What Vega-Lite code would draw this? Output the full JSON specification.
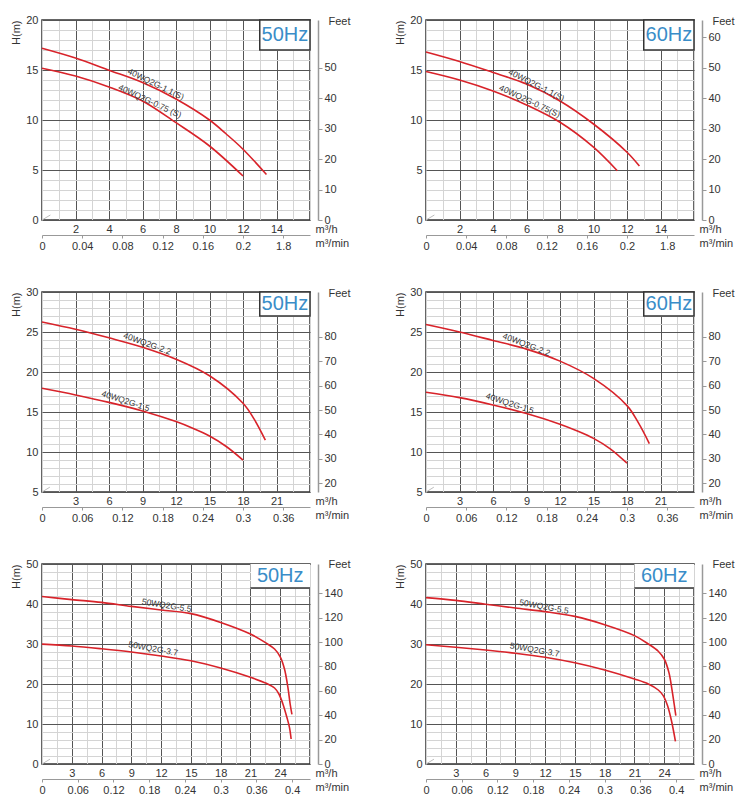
{
"$schema": "https://vega.github.io/schema/vega-lite/v6.json",
"background": "white",
"padding": {"left": 9, "top": 13, "right": 0, "bottom": 0},
"config": {
 "view": {"stroke": "#333", "strokeWidth": 1.5},
 "font": "Liberation Sans",
 "line": {"interpolate": "catmull-rom"},
 "axis": {"labelFont": "Liberation Sans", "labelFontSize": 11, "labelColor": "#333", "titleFont": "Liberation Sans", "titleFontSize": 11, "titleFontWeight": "normal", "titleColor": "#333", "labelOverlap": false, "labelFlush": false, "gridWidth": 1}
},
"datasets": {
 "curves": [
  {"p":1,"m":"40WQ2G-1.1(S)","Q":0,"H":17.18},{"p":1,"m":"40WQ2G-1.1(S)","Q":2,"H":16.2},{"p":1,"m":"40WQ2G-1.1(S)","Q":4,"H":14.98},{"p":1,"m":"40WQ2G-1.1(S)","Q":6,"H":13.75},{"p":1,"m":"40WQ2G-1.1(S)","Q":8,"H":12.1},{"p":1,"m":"40WQ2G-1.1(S)","Q":10,"H":10.0},{"p":1,"m":"40WQ2G-1.1(S)","Q":11,"H":8.6},{"p":1,"m":"40WQ2G-1.1(S)","Q":12,"H":7.08},{"p":1,"m":"40WQ2G-1.1(S)","Q":13.4,"H":4.55},
  {"p":1,"m":"40WQ2G-0.75 (S)","Q":0,"H":15.18},{"p":1,"m":"40WQ2G-0.75 (S)","Q":2,"H":14.4},{"p":1,"m":"40WQ2G-0.75 (S)","Q":4,"H":13.3},{"p":1,"m":"40WQ2G-0.75 (S)","Q":6,"H":11.9},{"p":1,"m":"40WQ2G-0.75 (S)","Q":8,"H":9.73},{"p":1,"m":"40WQ2G-0.75 (S)","Q":10,"H":7.4},{"p":1,"m":"40WQ2G-0.75 (S)","Q":12,"H":4.4},
  {"p":2,"m":"40WQ2G-1.1(S)","Q":0,"H":16.8},{"p":2,"m":"40WQ2G-1.1(S)","Q":2,"H":15.85},{"p":2,"m":"40WQ2G-1.1(S)","Q":4,"H":14.75},{"p":2,"m":"40WQ2G-1.1(S)","Q":6,"H":13.6},{"p":2,"m":"40WQ2G-1.1(S)","Q":8,"H":11.9},{"p":2,"m":"40WQ2G-1.1(S)","Q":10,"H":9.6},{"p":2,"m":"40WQ2G-1.1(S)","Q":12,"H":6.78},{"p":2,"m":"40WQ2G-1.1(S)","Q":12.74,"H":5.4},
  {"p":2,"m":"40WQ2G-0.75(S)","Q":0,"H":14.85},{"p":2,"m":"40WQ2G-0.75(S)","Q":2,"H":14.0},{"p":2,"m":"40WQ2G-0.75(S)","Q":4,"H":12.9},{"p":2,"m":"40WQ2G-0.75(S)","Q":6,"H":11.5},{"p":2,"m":"40WQ2G-0.75(S)","Q":8,"H":9.77},{"p":2,"m":"40WQ2G-0.75(S)","Q":10,"H":7.28},{"p":2,"m":"40WQ2G-0.75(S)","Q":11.42,"H":4.92},
  {"p":3,"m":"40WQ2G-2.2","Q":0,"H":26.26},{"p":3,"m":"40WQ2G-2.2","Q":3,"H":25.35},{"p":3,"m":"40WQ2G-2.2","Q":6,"H":24.27},{"p":3,"m":"40WQ2G-2.2","Q":9,"H":23.1},{"p":3,"m":"40WQ2G-2.2","Q":12,"H":21.6},{"p":3,"m":"40WQ2G-2.2","Q":15,"H":19.53},{"p":3,"m":"40WQ2G-2.2","Q":18,"H":16.09},{"p":3,"m":"40WQ2G-2.2","Q":19,"H":14.1},{"p":3,"m":"40WQ2G-2.2","Q":20,"H":11.48},
  {"p":3,"m":"40WQ2G-1.5","Q":0,"H":17.96},{"p":3,"m":"40WQ2G-1.5","Q":3,"H":17.13},{"p":3,"m":"40WQ2G-1.5","Q":6,"H":16.2},{"p":3,"m":"40WQ2G-1.5","Q":9,"H":15.13},{"p":3,"m":"40WQ2G-1.5","Q":12,"H":13.8},{"p":3,"m":"40WQ2G-1.5","Q":13.5,"H":12.97},{"p":3,"m":"40WQ2G-1.5","Q":15,"H":12.0},{"p":3,"m":"40WQ2G-1.5","Q":16.5,"H":10.69},{"p":3,"m":"40WQ2G-1.5","Q":18,"H":8.99},
  {"p":4,"m":"40WQ2G-2.2","Q":0,"H":25.93},{"p":4,"m":"40WQ2G-2.2","Q":3,"H":25.0},{"p":4,"m":"40WQ2G-2.2","Q":6,"H":23.94},{"p":4,"m":"40WQ2G-2.2","Q":9,"H":22.86},{"p":4,"m":"40WQ2G-2.2","Q":12,"H":21.36},{"p":4,"m":"40WQ2G-2.2","Q":15,"H":19.2},{"p":4,"m":"40WQ2G-2.2","Q":18,"H":15.8},{"p":4,"m":"40WQ2G-2.2","Q":19,"H":13.7},{"p":4,"m":"40WQ2G-2.2","Q":20,"H":11.06},
  {"p":4,"m":"40WQ2G-1.5","Q":0,"H":17.46},{"p":4,"m":"40WQ2G-1.5","Q":3,"H":16.8},{"p":4,"m":"40WQ2G-1.5","Q":6,"H":15.88},{"p":4,"m":"40WQ2G-1.5","Q":9,"H":14.8},{"p":4,"m":"40WQ2G-1.5","Q":12,"H":13.47},{"p":4,"m":"40WQ2G-1.5","Q":13.5,"H":12.65},{"p":4,"m":"40WQ2G-1.5","Q":15,"H":11.7},{"p":4,"m":"40WQ2G-1.5","Q":16.5,"H":10.4},{"p":4,"m":"40WQ2G-1.5","Q":18,"H":8.6},
  {"p":5,"m":"50WQ2G-5.5","Q":0,"H":41.86},{"p":5,"m":"50WQ2G-5.5","Q":3,"H":41.1},{"p":5,"m":"50WQ2G-5.5","Q":6,"H":40.4},{"p":5,"m":"50WQ2G-5.5","Q":9,"H":39.4},{"p":5,"m":"50WQ2G-5.5","Q":12,"H":38.5},{"p":5,"m":"50WQ2G-5.5","Q":15,"H":37.6},{"p":5,"m":"50WQ2G-5.5","Q":18,"H":35.4},{"p":5,"m":"50WQ2G-5.5","Q":21,"H":32.5},{"p":5,"m":"50WQ2G-5.5","Q":22.6,"H":30.2},{"p":5,"m":"50WQ2G-5.5","Q":23.43,"H":28.75},{"p":5,"m":"50WQ2G-5.5","Q":24,"H":26.8},{"p":5,"m":"50WQ2G-5.5","Q":24.43,"H":23.75},{"p":5,"m":"50WQ2G-5.5","Q":24.77,"H":19.2},{"p":5,"m":"50WQ2G-5.5","Q":25,"H":15.0},{"p":5,"m":"50WQ2G-5.5","Q":25.18,"H":12.4},
  {"p":5,"m":"50WQ2G-3.7","Q":0,"H":29.98},{"p":5,"m":"50WQ2G-3.7","Q":3,"H":29.5},{"p":5,"m":"50WQ2G-3.7","Q":6,"H":28.8},{"p":5,"m":"50WQ2G-3.7","Q":9,"H":28.0},{"p":5,"m":"50WQ2G-3.7","Q":12,"H":27.0},{"p":5,"m":"50WQ2G-3.7","Q":15,"H":25.8},{"p":5,"m":"50WQ2G-3.7","Q":18,"H":24.0},{"p":5,"m":"50WQ2G-3.7","Q":21,"H":21.67},{"p":5,"m":"50WQ2G-3.7","Q":22.6,"H":20.17},{"p":5,"m":"50WQ2G-3.7","Q":23.43,"H":19.0},{"p":5,"m":"50WQ2G-3.7","Q":23.87,"H":17.5},{"p":5,"m":"50WQ2G-3.7","Q":24.27,"H":15.0},{"p":5,"m":"50WQ2G-3.7","Q":24.67,"H":11.67},{"p":5,"m":"50WQ2G-3.7","Q":24.93,"H":9.17},{"p":5,"m":"50WQ2G-3.7","Q":25.1,"H":6.25},
  {"p":6,"m":"50WQ2G-5.5","Q":0,"H":41.6},{"p":6,"m":"50WQ2G-5.5","Q":3,"H":40.9},{"p":6,"m":"50WQ2G-5.5","Q":6,"H":39.95},{"p":6,"m":"50WQ2G-5.5","Q":9,"H":39.0},{"p":6,"m":"50WQ2G-5.5","Q":12,"H":38.1},{"p":6,"m":"50WQ2G-5.5","Q":15,"H":36.9},{"p":6,"m":"50WQ2G-5.5","Q":18,"H":34.83},{"p":6,"m":"50WQ2G-5.5","Q":21,"H":32.1},{"p":6,"m":"50WQ2G-5.5","Q":22.4,"H":30.0},{"p":6,"m":"50WQ2G-5.5","Q":23.4,"H":28.2},{"p":6,"m":"50WQ2G-5.5","Q":24,"H":26.25},{"p":6,"m":"50WQ2G-5.5","Q":24.47,"H":22.9},{"p":6,"m":"50WQ2G-5.5","Q":24.8,"H":18.3},{"p":6,"m":"50WQ2G-5.5","Q":25,"H":15.0},{"p":6,"m":"50WQ2G-5.5","Q":25.17,"H":12.1},
  {"p":6,"m":"50WQ2G-3.7","Q":0,"H":29.8},{"p":6,"m":"50WQ2G-3.7","Q":3,"H":29.2},{"p":6,"m":"50WQ2G-3.7","Q":6,"H":28.5},{"p":6,"m":"50WQ2G-3.7","Q":9,"H":27.7},{"p":6,"m":"50WQ2G-3.7","Q":12,"H":26.7},{"p":6,"m":"50WQ2G-3.7","Q":15,"H":25.3},{"p":6,"m":"50WQ2G-3.7","Q":18,"H":23.5},{"p":6,"m":"50WQ2G-3.7","Q":21,"H":21.25},{"p":6,"m":"50WQ2G-3.7","Q":22.4,"H":20.0},{"p":6,"m":"50WQ2G-3.7","Q":23.4,"H":18.5},{"p":6,"m":"50WQ2G-3.7","Q":23.9,"H":17.1},{"p":6,"m":"50WQ2G-3.7","Q":24.33,"H":14.6},{"p":6,"m":"50WQ2G-3.7","Q":24.73,"H":10.8},{"p":6,"m":"50WQ2G-3.7","Q":25.13,"H":5.67}
 ],
 "labels": [
  {"p":1,"n":1,"m":"40WQ2G-1.1(S)","Q":6.8,"H":13.6},{"p":1,"n":2,"m":"40WQ2G-0.75 (S)","Q":6.45,"H":11.9},
  {"p":2,"n":1,"m":"40WQ2G-1.1(S)","Q":6.6,"H":13.5},{"p":2,"n":2,"m":"40WQ2G-0.75(S)","Q":6.2,"H":11.9},
  {"p":3,"n":1,"m":"40WQ2G-2.2","Q":9.43,"H":23.57},{"p":3,"n":2,"m":"40WQ2G-1.5","Q":7.49,"H":16.4},
  {"p":4,"n":1,"m":"40WQ2G-2.2","Q":9.0,"H":23.45},{"p":4,"n":2,"m":"40WQ2G-1.5","Q":7.52,"H":16.1},
  {"p":5,"n":1,"m":"50WQ2G-5.5","Q":12.56,"H":39.7},{"p":5,"n":2,"m":"50WQ2G-3.7","Q":11.2,"H":28.9},
  {"p":6,"n":1,"m":"50WQ2G-5.5","Q":11.9,"H":39.4},{"p":6,"n":2,"m":"50WQ2G-3.7","Q":10.95,"H":28.6}
 ]
},
"columns": 2,
"spacing": {"row": 72, "column": 116},
"bounds": "flush",
"concat": [
 {
  "width": 268, "height": 200,
  "resolve": {"scale": {"x": "independent", "y": "independent"}},
  "layer": [
   {"resolve": {"axis": {"x": "independent", "y": "independent"}},
    "layer": [
    {"data": {"values": [{}]}, "mark": {"type": "rule", "color": "#bdbdbd", "strokeWidth": 1},
     "encoding": {
      "x": {"datum": 0, "type": "quantitative", "scale": {"domain": [0, 16], "nice": false},
       "axis": {"orient": "bottom", "values": [0,1,2,3,4,5,6,7,8,9,10,11,12,13,14,15,16], "grid": true, "gridColor": "#d4d4d4", "labels": false, "ticks": false, "domain": false, "title": null}},
      "y": {"datum": 0, "type": "quantitative", "scale": {"domain": [0, 20], "nice": false},
       "axis": {"orient": "left", "values": [0,1,2,3,4,5,6,7,8,9,10,11,12,13,14,15,16,17,18,19,20], "grid": true, "gridColor": "#d4d4d4", "labels": false, "ticks": false, "domain": false, "title": null}},
      "x2": {"datum": 0.5}, "y2": {"datum": 0.5}}},
    {"data": {"values": [{}]}, "mark": {"type": "rect", "fill": "white", "stroke": "#333", "strokeWidth": 1.5},
     "encoding": {"x": {"datum": 13, "type": "quantitative", "axis": null}, "x2": {"datum": 16}, "y": {"datum": 17, "type": "quantitative", "axis": null}, "y2": {"datum": 20}}},
    {"data": {"name": "curves"}, "transform": [{"filter": "datum.p == 1"}],
     "mark": {"type": "line", "color": "#d8232a", "strokeWidth": 1.6},
     "encoding": {
      "x": {"field": "Q", "type": "quantitative", "scale": {"domain": [0, 16], "nice": false},
       "axis": {"orient": "bottom", "values": [2,4,6,8,10,12,14], "grid": true, "gridColor": "#555", "ticks": false, "domain": false, "labelPadding": 3, "labelOverlap": false, "title": "m³/h", "titleX": 273, "titleY": 9, "titleAlign": "left", "titleBaseline": "middle"}},
      "y": {"field": "H", "type": "quantitative", "scale": {"domain": [0, 20], "nice": false},
       "axis": {"orient": "left", "values": [0,5,10,15,20], "grid": true, "gridColor": "#555", "ticks": false, "domain": false, "labelPadding": 4, "labelOverlap": false, "title": "H(m)", "titleX": -26, "titleY": 0, "titleAngle": 270, "titleAlign": "right", "titleBaseline": "middle"}},
      "detail": {"field": "m", "type": "nominal"}}},
    {"data": {"name": "labels"}, "transform": [{"filter": "datum.p == 1 && datum.n == 1"}],
     "mark": {"type": "text", "angle": 26, "fontSize": 8.5, "color": "#333"},
     "encoding": {"x": {"field": "Q", "type": "quantitative", "axis": null}, "y": {"field": "H", "type": "quantitative", "axis": null}, "text": {"field": "m"}}},
    {"data": {"name": "labels"}, "transform": [{"filter": "datum.p == 1 && datum.n == 2"}],
     "mark": {"type": "text", "angle": 25, "fontSize": 8.5, "color": "#333"},
     "encoding": {"x": {"field": "Q", "type": "quantitative", "axis": null}, "y": {"field": "H", "type": "quantitative", "axis": null}, "text": {"field": "m"}}},
    {"data": {"values": [{}]}, "mark": {"type": "text", "text": "50Hz", "fontSize": 20, "color": "#3a8dc8"},
     "encoding": {"x": {"datum": 14.5, "type": "quantitative", "axis": null}, "y": {"datum": 18.5, "type": "quantitative", "axis": null}}}
   ]},
   {"data": {"values": [{}]}, "mark": {"type": "point", "opacity": 0},
    "encoding": {"y": {"datum": 0, "type": "quantitative", "scale": {"domain": [0, 65.617], "nice": false},
     "axis": {"orient": "right", "offset": 8, "values": [0,10,20,30,40,50], "grid": false, "domain": true, "domainColor": "#999", "domainWidth": 1.5, "ticks": true, "tickColor": "#999", "tickSize": 4, "labelPadding": 2, "labelOverlap": false, "title": "Feet", "titleAngle": 0, "titleX": 10, "titleY": 1, "titleAlign": "left", "titleBaseline": "middle"}}}},
   {"data": {"values": [{}]}, "mark": {"type": "point", "opacity": 0},
    "encoding": {"x": {"datum": 0, "type": "quantitative", "scale": {"domain": [0, 0.266667], "nice": false},
     "axis": {"orient": "bottom", "offset": 15, "values": [0,0.04,0.08,0.12,0.16,0.2,0.24], "format": "~g", "labelExpr": "datum.value > 0.23 ? '1.8' : datum.label", "grid": false, "domain": true, "domainColor": "#999", "ticks": true, "tickColor": "#999", "tickSize": 3, "labelPadding": 2, "labelOverlap": false, "title": "m³/min", "titleX": 273, "titleY": 8, "titleAlign": "left", "titleBaseline": "middle"}}}}
  ]
 },
 {
  "width": 268, "height": 200,
  "resolve": {"scale": {"x": "independent", "y": "independent"}},
  "layer": [
   {"resolve": {"axis": {"x": "independent", "y": "independent"}},
    "layer": [
    {"data": {"values": [{}]}, "mark": {"type": "rule", "color": "#bdbdbd", "strokeWidth": 1},
     "encoding": {
      "x": {"datum": 0, "type": "quantitative", "scale": {"domain": [0, 16], "nice": false},
       "axis": {"orient": "bottom", "values": [0,1,2,3,4,5,6,7,8,9,10,11,12,13,14,15,16], "grid": true, "gridColor": "#d4d4d4", "labels": false, "ticks": false, "domain": false, "title": null}},
      "y": {"datum": 0, "type": "quantitative", "scale": {"domain": [0, 20], "nice": false},
       "axis": {"orient": "left", "values": [0,1,2,3,4,5,6,7,8,9,10,11,12,13,14,15,16,17,18,19,20], "grid": true, "gridColor": "#d4d4d4", "labels": false, "ticks": false, "domain": false, "title": null}},
      "x2": {"datum": 0.5}, "y2": {"datum": 0.5}}},
    {"data": {"values": [{}]}, "mark": {"type": "rect", "fill": "white", "stroke": "#333", "strokeWidth": 1.5},
     "encoding": {"x": {"datum": 13, "type": "quantitative", "axis": null}, "x2": {"datum": 16}, "y": {"datum": 17, "type": "quantitative", "axis": null}, "y2": {"datum": 20}}},
    {"data": {"name": "curves"}, "transform": [{"filter": "datum.p == 2"}],
     "mark": {"type": "line", "color": "#d8232a", "strokeWidth": 1.6},
     "encoding": {
      "x": {"field": "Q", "type": "quantitative", "scale": {"domain": [0, 16], "nice": false},
       "axis": {"orient": "bottom", "values": [2,4,6,8,10,12,14], "grid": true, "gridColor": "#555", "ticks": false, "domain": false, "labelPadding": 3, "labelOverlap": false, "title": "m³/h", "titleX": 273, "titleY": 9, "titleAlign": "left", "titleBaseline": "middle"}},
      "y": {"field": "H", "type": "quantitative", "scale": {"domain": [0, 20], "nice": false},
       "axis": {"orient": "left", "values": [0,5,10,15,20], "grid": true, "gridColor": "#555", "ticks": false, "domain": false, "labelPadding": 4, "labelOverlap": false, "title": "H(m)", "titleX": -26, "titleY": 0, "titleAngle": 270, "titleAlign": "right", "titleBaseline": "middle"}},
      "detail": {"field": "m", "type": "nominal"}}},
    {"data": {"name": "labels"}, "transform": [{"filter": "datum.p == 2 && datum.n == 1"}],
     "mark": {"type": "text", "angle": 27, "fontSize": 8.5, "color": "#333"},
     "encoding": {"x": {"field": "Q", "type": "quantitative", "axis": null}, "y": {"field": "H", "type": "quantitative", "axis": null}, "text": {"field": "m"}}},
    {"data": {"name": "labels"}, "transform": [{"filter": "datum.p == 2 && datum.n == 2"}],
     "mark": {"type": "text", "angle": 25, "fontSize": 8.5, "color": "#333"},
     "encoding": {"x": {"field": "Q", "type": "quantitative", "axis": null}, "y": {"field": "H", "type": "quantitative", "axis": null}, "text": {"field": "m"}}},
    {"data": {"values": [{}]}, "mark": {"type": "text", "text": "60Hz", "fontSize": 20, "color": "#3a8dc8"},
     "encoding": {"x": {"datum": 14.5, "type": "quantitative", "axis": null}, "y": {"datum": 18.5, "type": "quantitative", "axis": null}}}
   ]},
   {"data": {"values": [{}]}, "mark": {"type": "point", "opacity": 0},
    "encoding": {"y": {"datum": 0, "type": "quantitative", "scale": {"domain": [0, 65.617], "nice": false},
     "axis": {"orient": "right", "offset": 8, "values": [0,10,20,30,40,50,60], "grid": false, "domain": true, "domainColor": "#999", "domainWidth": 1.5, "ticks": true, "tickColor": "#999", "tickSize": 4, "labelPadding": 2, "labelOverlap": false, "title": "Feet", "titleAngle": 0, "titleX": 10, "titleY": 1, "titleAlign": "left", "titleBaseline": "middle"}}}},
   {"data": {"values": [{}]}, "mark": {"type": "point", "opacity": 0},
    "encoding": {"x": {"datum": 0, "type": "quantitative", "scale": {"domain": [0, 0.266667], "nice": false},
     "axis": {"orient": "bottom", "offset": 15, "values": [0,0.04,0.08,0.12,0.16,0.2,0.24], "format": "~g", "labelExpr": "datum.value > 0.23 ? '1.8' : datum.label", "grid": false, "domain": true, "domainColor": "#999", "ticks": true, "tickColor": "#999", "tickSize": 3, "labelPadding": 2, "labelOverlap": false, "title": "m³/min", "titleX": 273, "titleY": 8, "titleAlign": "left", "titleBaseline": "middle"}}}}
  ]
 },
 {
  "width": 268, "height": 200,
  "resolve": {"scale": {"x": "independent", "y": "independent"}},
  "layer": [
   {"resolve": {"axis": {"x": "independent", "y": "independent"}},
    "layer": [
    {"data": {"values": [{}]}, "mark": {"type": "rule", "color": "#bdbdbd", "strokeWidth": 1},
     "encoding": {
      "x": {"datum": 0, "type": "quantitative", "scale": {"domain": [0, 24], "nice": false},
       "axis": {"orient": "bottom", "values": [0,1.5,3,4.5,6,7.5,9,10.5,12,13.5,15,16.5,18,19.5,21,22.5,24], "grid": true, "gridColor": "#d4d4d4", "labels": false, "ticks": false, "domain": false, "title": null}},
      "y": {"datum": 5, "type": "quantitative", "scale": {"domain": [5, 30], "nice": false, "zero": false},
       "axis": {"orient": "left", "values": [5,6,7,8,9,10,11,12,13,14,15,16,17,18,19,20,21,22,23,24,25,26,27,28,29,30], "grid": true, "gridColor": "#d4d4d4", "labels": false, "ticks": false, "domain": false, "title": null}},
      "x2": {"datum": 0.7}, "y2": {"datum": 5.6}}},
    {"data": {"values": [{}]}, "mark": {"type": "rect", "fill": "white", "stroke": "#333", "strokeWidth": 1.5},
     "encoding": {"x": {"datum": 19.5, "type": "quantitative", "axis": null}, "x2": {"datum": 24}, "y": {"datum": 27, "type": "quantitative", "axis": null}, "y2": {"datum": 30}}},
    {"data": {"name": "curves"}, "transform": [{"filter": "datum.p == 3"}],
     "mark": {"type": "line", "color": "#d8232a", "strokeWidth": 1.6},
     "encoding": {
      "x": {"field": "Q", "type": "quantitative", "scale": {"domain": [0, 24], "nice": false},
       "axis": {"orient": "bottom", "values": [3,6,9,12,15,18,21], "grid": true, "gridColor": "#555", "ticks": false, "domain": false, "labelPadding": 3, "labelOverlap": false, "title": "m³/h", "titleX": 273, "titleY": 9, "titleAlign": "left", "titleBaseline": "middle"}},
      "y": {"field": "H", "type": "quantitative", "scale": {"domain": [5, 30], "nice": false, "zero": false},
       "axis": {"orient": "left", "values": [5,10,15,20,25,30], "grid": true, "gridColor": "#555", "ticks": false, "domain": false, "labelPadding": 4, "labelOverlap": false, "title": "H(m)", "titleX": -26, "titleY": 0, "titleAngle": 270, "titleAlign": "right", "titleBaseline": "middle"}},
      "detail": {"field": "m", "type": "nominal"}}},
    {"data": {"name": "labels"}, "transform": [{"filter": "datum.p == 3 && datum.n == 1"}],
     "mark": {"type": "text", "angle": 20, "fontSize": 8.5, "color": "#333"},
     "encoding": {"x": {"field": "Q", "type": "quantitative", "axis": null}, "y": {"field": "H", "type": "quantitative", "axis": null}, "text": {"field": "m"}}},
    {"data": {"name": "labels"}, "transform": [{"filter": "datum.p == 3 && datum.n == 2"}],
     "mark": {"type": "text", "angle": 18, "fontSize": 8.5, "color": "#333"},
     "encoding": {"x": {"field": "Q", "type": "quantitative", "axis": null}, "y": {"field": "H", "type": "quantitative", "axis": null}, "text": {"field": "m"}}},
    {"data": {"values": [{}]}, "mark": {"type": "text", "text": "50Hz", "fontSize": 20, "color": "#3a8dc8"},
     "encoding": {"x": {"datum": 21.75, "type": "quantitative", "axis": null}, "y": {"datum": 28.5, "type": "quantitative", "axis": null}}}
   ]},
   {"data": {"values": [{}]}, "mark": {"type": "point", "opacity": 0},
    "encoding": {"y": {"datum": 20, "type": "quantitative", "scale": {"domain": [16.404, 98.425], "nice": false, "zero": false},
     "axis": {"orient": "right", "offset": 8, "values": [20,30,40,50,60,70,80], "grid": false, "domain": true, "domainColor": "#999", "domainWidth": 1.5, "ticks": true, "tickColor": "#999", "tickSize": 4, "labelPadding": 2, "labelOverlap": false, "title": "Feet", "titleAngle": 0, "titleX": 10, "titleY": 1, "titleAlign": "left", "titleBaseline": "middle"}}}},
   {"data": {"values": [{}]}, "mark": {"type": "point", "opacity": 0},
    "encoding": {"x": {"datum": 0, "type": "quantitative", "scale": {"domain": [0, 0.4], "nice": false},
     "axis": {"orient": "bottom", "offset": 15, "values": [0,0.06,0.12,0.18,0.24,0.3,0.36], "format": "~g", "grid": false, "domain": true, "domainColor": "#999", "ticks": true, "tickColor": "#999", "tickSize": 3, "labelPadding": 2, "labelOverlap": false, "title": "m³/min", "titleX": 273, "titleY": 8, "titleAlign": "left", "titleBaseline": "middle"}}}}
  ]
 },
 {
  "width": 268, "height": 200,
  "resolve": {"scale": {"x": "independent", "y": "independent"}},
  "layer": [
   {"resolve": {"axis": {"x": "independent", "y": "independent"}},
    "layer": [
    {"data": {"values": [{}]}, "mark": {"type": "rule", "color": "#bdbdbd", "strokeWidth": 1},
     "encoding": {
      "x": {"datum": 0, "type": "quantitative", "scale": {"domain": [0, 24], "nice": false},
       "axis": {"orient": "bottom", "values": [0,1.5,3,4.5,6,7.5,9,10.5,12,13.5,15,16.5,18,19.5,21,22.5,24], "grid": true, "gridColor": "#d4d4d4", "labels": false, "ticks": false, "domain": false, "title": null}},
      "y": {"datum": 5, "type": "quantitative", "scale": {"domain": [5, 30], "nice": false, "zero": false},
       "axis": {"orient": "left", "values": [5,6,7,8,9,10,11,12,13,14,15,16,17,18,19,20,21,22,23,24,25,26,27,28,29,30], "grid": true, "gridColor": "#d4d4d4", "labels": false, "ticks": false, "domain": false, "title": null}},
      "x2": {"datum": 0.7}, "y2": {"datum": 5.6}}},
    {"data": {"values": [{}]}, "mark": {"type": "rect", "fill": "white", "stroke": "#333", "strokeWidth": 1.5},
     "encoding": {"x": {"datum": 19.5, "type": "quantitative", "axis": null}, "x2": {"datum": 24}, "y": {"datum": 27, "type": "quantitative", "axis": null}, "y2": {"datum": 30}}},
    {"data": {"name": "curves"}, "transform": [{"filter": "datum.p == 4"}],
     "mark": {"type": "line", "color": "#d8232a", "strokeWidth": 1.6},
     "encoding": {
      "x": {"field": "Q", "type": "quantitative", "scale": {"domain": [0, 24], "nice": false},
       "axis": {"orient": "bottom", "values": [3,6,9,12,15,18,21], "grid": true, "gridColor": "#555", "ticks": false, "domain": false, "labelPadding": 3, "labelOverlap": false, "title": "m³/h", "titleX": 273, "titleY": 9, "titleAlign": "left", "titleBaseline": "middle"}},
      "y": {"field": "H", "type": "quantitative", "scale": {"domain": [5, 30], "nice": false, "zero": false},
       "axis": {"orient": "left", "values": [5,10,15,20,25,30], "grid": true, "gridColor": "#555", "ticks": false, "domain": false, "labelPadding": 4, "labelOverlap": false, "title": "H(m)", "titleX": -26, "titleY": 0, "titleAngle": 270, "titleAlign": "right", "titleBaseline": "middle"}},
      "detail": {"field": "m", "type": "nominal"}}},
    {"data": {"name": "labels"}, "transform": [{"filter": "datum.p == 4 && datum.n == 1"}],
     "mark": {"type": "text", "angle": 21, "fontSize": 8.5, "color": "#333"},
     "encoding": {"x": {"field": "Q", "type": "quantitative", "axis": null}, "y": {"field": "H", "type": "quantitative", "axis": null}, "text": {"field": "m"}}},
    {"data": {"name": "labels"}, "transform": [{"filter": "datum.p == 4 && datum.n == 2"}],
     "mark": {"type": "text", "angle": 18, "fontSize": 8.5, "color": "#333"},
     "encoding": {"x": {"field": "Q", "type": "quantitative", "axis": null}, "y": {"field": "H", "type": "quantitative", "axis": null}, "text": {"field": "m"}}},
    {"data": {"values": [{}]}, "mark": {"type": "text", "text": "60Hz", "fontSize": 20, "color": "#3a8dc8"},
     "encoding": {"x": {"datum": 21.75, "type": "quantitative", "axis": null}, "y": {"datum": 28.5, "type": "quantitative", "axis": null}}}
   ]},
   {"data": {"values": [{}]}, "mark": {"type": "point", "opacity": 0},
    "encoding": {"y": {"datum": 20, "type": "quantitative", "scale": {"domain": [16.404, 98.425], "nice": false, "zero": false},
     "axis": {"orient": "right", "offset": 8, "values": [20,30,40,50,60,70,80], "grid": false, "domain": true, "domainColor": "#999", "domainWidth": 1.5, "ticks": true, "tickColor": "#999", "tickSize": 4, "labelPadding": 2, "labelOverlap": false, "title": "Feet", "titleAngle": 0, "titleX": 10, "titleY": 1, "titleAlign": "left", "titleBaseline": "middle"}}}},
   {"data": {"values": [{}]}, "mark": {"type": "point", "opacity": 0},
    "encoding": {"x": {"datum": 0, "type": "quantitative", "scale": {"domain": [0, 0.4], "nice": false},
     "axis": {"orient": "bottom", "offset": 15, "values": [0,0.06,0.12,0.18,0.24,0.3,0.36], "format": "~g", "grid": false, "domain": true, "domainColor": "#999", "ticks": true, "tickColor": "#999", "tickSize": 3, "labelPadding": 2, "labelOverlap": false, "title": "m³/min", "titleX": 273, "titleY": 8, "titleAlign": "left", "titleBaseline": "middle"}}}}
  ]
 },
 {
  "width": 268, "height": 200,
  "resolve": {"scale": {"x": "independent", "y": "independent"}},
  "layer": [
   {"resolve": {"axis": {"x": "independent", "y": "independent"}},
    "layer": [
    {"data": {"values": [{}]}, "mark": {"type": "rule", "color": "#bdbdbd", "strokeWidth": 1},
     "encoding": {
      "x": {"datum": 0, "type": "quantitative", "scale": {"domain": [0, 27], "nice": false},
       "axis": {"orient": "bottom", "values": [0,1.5,3,4.5,6,7.5,9,10.5,12,13.5,15,16.5,18,19.5,21,22.5,24,25.5,27], "grid": true, "gridColor": "#d4d4d4", "labels": false, "ticks": false, "domain": false, "title": null}},
      "y": {"datum": 0, "type": "quantitative", "scale": {"domain": [0, 50], "nice": false},
       "axis": {"orient": "left", "values": [0,2,4,6,8,10,12,14,16,18,20,22,24,26,28,30,32,34,36,38,40,42,44,46,48,50], "grid": true, "gridColor": "#d4d4d4", "labels": false, "ticks": false, "domain": false, "title": null}},
      "x2": {"datum": 0.8}, "y2": {"datum": 1.2}}},
    {"data": {"values": [{}]}, "mark": {"type": "rect", "fill": "white"},
     "encoding": {"x": {"datum": 21, "type": "quantitative", "axis": null}, "x2": {"datum": 27}, "y": {"datum": 44, "type": "quantitative", "axis": null}, "y2": {"datum": 50}}},
    {"data": {"values": [{}]}, "mark": {"type": "rule", "color": "#333", "strokeWidth": 1.5},
     "encoding": {"x": {"datum": 21, "type": "quantitative", "axis": null}, "x2": {"datum": 27}, "y": {"datum": 44, "type": "quantitative", "axis": null}}},
    {"data": {"name": "curves"}, "transform": [{"filter": "datum.p == 5"}],
     "mark": {"type": "line", "color": "#d8232a", "strokeWidth": 1.6},
     "encoding": {
      "x": {"field": "Q", "type": "quantitative", "scale": {"domain": [0, 27], "nice": false},
       "axis": {"orient": "bottom", "values": [3,6,9,12,15,18,21,24], "grid": true, "gridColor": "#555", "ticks": false, "domain": false, "labelPadding": 3, "labelOverlap": false, "title": "m³/h", "titleX": 273, "titleY": 9, "titleAlign": "left", "titleBaseline": "middle"}},
      "y": {"field": "H", "type": "quantitative", "scale": {"domain": [0, 50], "nice": false},
       "axis": {"orient": "left", "values": [0,10,20,30,40,50], "grid": true, "gridColor": "#555", "ticks": false, "domain": false, "labelPadding": 4, "labelOverlap": false, "title": "H(m)", "titleX": -26, "titleY": 0, "titleAngle": 270, "titleAlign": "right", "titleBaseline": "middle"}},
      "detail": {"field": "m", "type": "nominal"}}},
    {"data": {"name": "labels"}, "transform": [{"filter": "datum.p == 5 && datum.n == 1"}],
     "mark": {"type": "text", "angle": 9, "fontSize": 8.5, "color": "#333"},
     "encoding": {"x": {"field": "Q", "type": "quantitative", "axis": null}, "y": {"field": "H", "type": "quantitative", "axis": null}, "text": {"field": "m"}}},
    {"data": {"name": "labels"}, "transform": [{"filter": "datum.p == 5 && datum.n == 2"}],
     "mark": {"type": "text", "angle": 10, "fontSize": 8.5, "color": "#333"},
     "encoding": {"x": {"field": "Q", "type": "quantitative", "axis": null}, "y": {"field": "H", "type": "quantitative", "axis": null}, "text": {"field": "m"}}},
    {"data": {"values": [{}]}, "mark": {"type": "text", "text": "50Hz", "fontSize": 20, "color": "#3a8dc8"},
     "encoding": {"x": {"datum": 24, "type": "quantitative", "axis": null}, "y": {"datum": 47, "type": "quantitative", "axis": null}}}
   ]},
   {"data": {"values": [{}]}, "mark": {"type": "point", "opacity": 0},
    "encoding": {"y": {"datum": 0, "type": "quantitative", "scale": {"domain": [0, 164.04], "nice": false},
     "axis": {"orient": "right", "offset": 8, "values": [0,20,40,60,80,100,120,140], "grid": false, "domain": true, "domainColor": "#999", "domainWidth": 1.5, "ticks": true, "tickColor": "#999", "tickSize": 4, "labelPadding": 2, "labelOverlap": false, "title": "Feet", "titleAngle": 0, "titleX": 10, "titleY": 0, "titleAlign": "left", "titleBaseline": "middle"}}}},
   {"data": {"values": [{}]}, "mark": {"type": "point", "opacity": 0},
    "encoding": {"x": {"datum": 0, "type": "quantitative", "scale": {"domain": [0, 0.45], "nice": false},
     "axis": {"orient": "bottom", "offset": 15, "values": [0,0.06,0.12,0.18,0.24,0.3,0.36,0.42], "format": "~g", "labelExpr": "datum.value > 0.41 ? '0.4' : datum.label", "grid": false, "domain": true, "domainColor": "#999", "ticks": true, "tickColor": "#999", "tickSize": 3, "labelPadding": 2, "labelOverlap": false, "title": "m³/min", "titleX": 273, "titleY": 8, "titleAlign": "left", "titleBaseline": "middle"}}}}
  ]
 },
 {
  "width": 268, "height": 200,
  "resolve": {"scale": {"x": "independent", "y": "independent"}},
  "layer": [
   {"resolve": {"axis": {"x": "independent", "y": "independent"}},
    "layer": [
    {"data": {"values": [{}]}, "mark": {"type": "rule", "color": "#bdbdbd", "strokeWidth": 1},
     "encoding": {
      "x": {"datum": 0, "type": "quantitative", "scale": {"domain": [0, 27], "nice": false},
       "axis": {"orient": "bottom", "values": [0,1.5,3,4.5,6,7.5,9,10.5,12,13.5,15,16.5,18,19.5,21,22.5,24,25.5,27], "grid": true, "gridColor": "#d4d4d4", "labels": false, "ticks": false, "domain": false, "title": null}},
      "y": {"datum": 0, "type": "quantitative", "scale": {"domain": [0, 50], "nice": false},
       "axis": {"orient": "left", "values": [0,2,4,6,8,10,12,14,16,18,20,22,24,26,28,30,32,34,36,38,40,42,44,46,48,50], "grid": true, "gridColor": "#d4d4d4", "labels": false, "ticks": false, "domain": false, "title": null}},
      "x2": {"datum": 0.8}, "y2": {"datum": 1.2}}},
    {"data": {"values": [{}]}, "mark": {"type": "rect", "fill": "white"},
     "encoding": {"x": {"datum": 21, "type": "quantitative", "axis": null}, "x2": {"datum": 27}, "y": {"datum": 44, "type": "quantitative", "axis": null}, "y2": {"datum": 50}}},
    {"data": {"values": [{}]}, "mark": {"type": "rule", "color": "#333", "strokeWidth": 1.5},
     "encoding": {"x": {"datum": 21, "type": "quantitative", "axis": null}, "x2": {"datum": 27}, "y": {"datum": 44, "type": "quantitative", "axis": null}}},
    {"data": {"name": "curves"}, "transform": [{"filter": "datum.p == 6"}],
     "mark": {"type": "line", "color": "#d8232a", "strokeWidth": 1.6},
     "encoding": {
      "x": {"field": "Q", "type": "quantitative", "scale": {"domain": [0, 27], "nice": false},
       "axis": {"orient": "bottom", "values": [3,6,9,12,15,18,21,24], "grid": true, "gridColor": "#555", "ticks": false, "domain": false, "labelPadding": 3, "labelOverlap": false, "title": "m³/h", "titleX": 273, "titleY": 9, "titleAlign": "left", "titleBaseline": "middle"}},
      "y": {"field": "H", "type": "quantitative", "scale": {"domain": [0, 50], "nice": false},
       "axis": {"orient": "left", "values": [0,10,20,30,40,50], "grid": true, "gridColor": "#555", "ticks": false, "domain": false, "labelPadding": 4, "labelOverlap": false, "title": "H(m)", "titleX": -26, "titleY": 0, "titleAngle": 270, "titleAlign": "right", "titleBaseline": "middle"}},
      "detail": {"field": "m", "type": "nominal"}}},
    {"data": {"name": "labels"}, "transform": [{"filter": "datum.p == 6 && datum.n == 1"}],
     "mark": {"type": "text", "angle": 10, "fontSize": 8.5, "color": "#333"},
     "encoding": {"x": {"field": "Q", "type": "quantitative", "axis": null}, "y": {"field": "H", "type": "quantitative", "axis": null}, "text": {"field": "m"}}},
    {"data": {"name": "labels"}, "transform": [{"filter": "datum.p == 6 && datum.n == 2"}],
     "mark": {"type": "text", "angle": 10, "fontSize": 8.5, "color": "#333"},
     "encoding": {"x": {"field": "Q", "type": "quantitative", "axis": null}, "y": {"field": "H", "type": "quantitative", "axis": null}, "text": {"field": "m"}}},
    {"data": {"values": [{}]}, "mark": {"type": "text", "text": "60Hz", "fontSize": 20, "color": "#3a8dc8"},
     "encoding": {"x": {"datum": 24, "type": "quantitative", "axis": null}, "y": {"datum": 47, "type": "quantitative", "axis": null}}}
   ]},
   {"data": {"values": [{}]}, "mark": {"type": "point", "opacity": 0},
    "encoding": {"y": {"datum": 0, "type": "quantitative", "scale": {"domain": [0, 164.04], "nice": false},
     "axis": {"orient": "right", "offset": 8, "values": [0,20,40,60,80,100,120,140], "grid": false, "domain": true, "domainColor": "#999", "domainWidth": 1.5, "ticks": true, "tickColor": "#999", "tickSize": 4, "labelPadding": 2, "labelOverlap": false, "title": "Feet", "titleAngle": 0, "titleX": 10, "titleY": 0, "titleAlign": "left", "titleBaseline": "middle"}}}},
   {"data": {"values": [{}]}, "mark": {"type": "point", "opacity": 0},
    "encoding": {"x": {"datum": 0, "type": "quantitative", "scale": {"domain": [0, 0.45], "nice": false},
     "axis": {"orient": "bottom", "offset": 15, "values": [0,0.06,0.12,0.18,0.24,0.3,0.36,0.42], "format": "~g", "labelExpr": "datum.value > 0.41 ? '0.4' : datum.label", "grid": false, "domain": true, "domainColor": "#999", "ticks": true, "tickColor": "#999", "tickSize": 3, "labelPadding": 2, "labelOverlap": false, "title": "m³/min", "titleX": 273, "titleY": 8, "titleAlign": "left", "titleBaseline": "middle"}}}}
  ]
 }
]
}
